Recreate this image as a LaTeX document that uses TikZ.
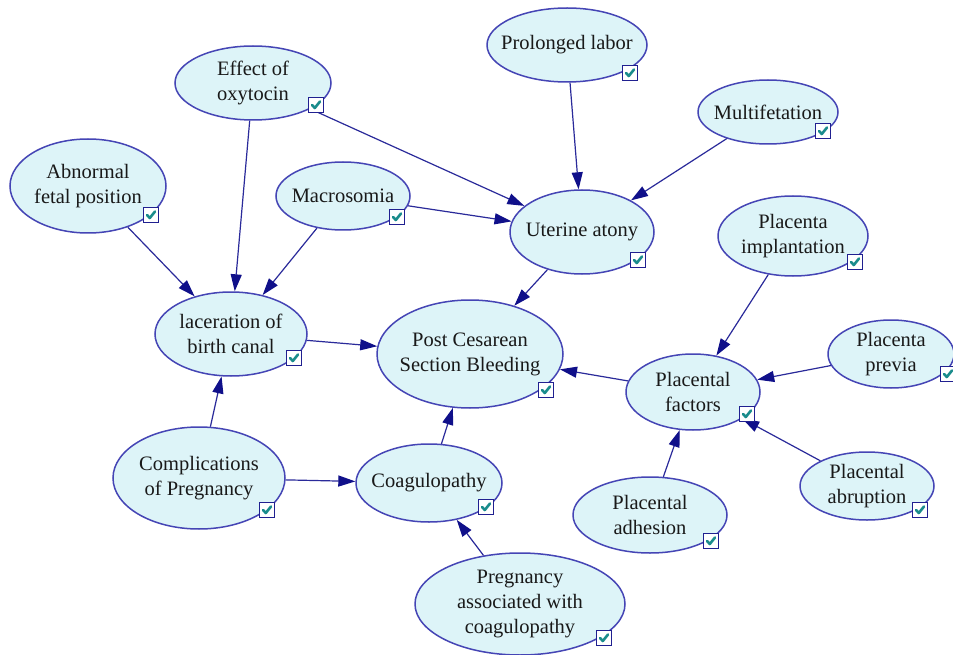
\documentclass[tikz,border=0pt]{standalone}
\usepackage{fontspec}
\setmainfont{Liberation Serif}
\newfontfamily\tnr{Liberation Serif}
\usetikzlibrary{shapes.geometric,arrows.meta}
\definecolor{efill}{HTML}{DDF4F8}
\definecolor{edraw}{HTML}{4545B5}
\definecolor{lnk}{HTML}{2A2A9A}
\definecolor{ahead}{HTML}{10108A}
\definecolor{chk}{HTML}{1A8C8C}
\definecolor{chkb}{HTML}{202090}
\tikzset{
  ell/.style={ellipse, draw=edraw, fill=efill, line width=1.5pt, inner sep=0pt},
  txt/.style={align=center, inner sep=0pt, font=\tnr\fontsize{20.5}{25}\selectfont, text=black!90},
  cbox/.style={draw=chkb, fill=white, line width=1.4pt, minimum size=15pt, inner sep=0pt},
  tick/.style={draw=chk, line width=2.6pt, line cap=round, line join=round},
  lk/.style={draw=lnk, line width=1.2pt, -{Triangle[length=17pt,width=11pt,color=ahead]}}
}
\newcommand\bn[6]{%
  \node[ell, minimum width=2*#4pt, minimum height=2*#5pt] (#1) at (#2,#3) {};
  \node[txt] (#1-t) at (#1) {#6};
}
\newcommand\cb[3]{%
  \node[cbox] (#1-c) at (#2,#3) {};
  \draw[tick] ([shift={(-4,0)}]#1-c.center) -- ([shift={(-1.2,3)}]#1-c.center) -- ([shift={(4,-3.5)}]#1-c.center);
}
\begin{document}
\begin{tikzpicture}[x=1pt,y=-1pt]
\fill[white] (0,0) rectangle (953,655);
\useasboundingbox (0,0) rectangle (953,655);
\clip (0,0) rectangle (953,655);
\bn{oxy}{253}{83}{78}{37}{Effect of\\oxytocin}
\bn{pro}{567}{45}{80}{37}{Prolonged labor}
\bn{mul}{768}{112}{70}{32}{Multifetation}
\bn{abn}{88}{186}{78}{47}{Abnormal\\fetal position}
\bn{mac}{343}{196}{67}{34}{Macrosomia}
\bn{ute}{582}{232}{72}{42}{Uterine atony}
\bn{imp}{793}{236}{75}{40}{Placenta\\implantation}
\bn{lac}{231}{334}{76}{42}{laceration of\\birth canal}
\bn{pcs}{470}{354}{93}{54}{Post Cesarean\\Section Bleeding}
\bn{pre}{891}{354}{63}{34}{Placenta\\previa}
\bn{fac}{693}{392}{67}{38}{Placental\\factors}
\bn{com}{199}{478}{86}{51}{Complications\\of Pregnancy}
\bn{coa}{429}{483}{73}{39}{Coagulopathy}
\bn{abr}{867}{486}{67}{34}{Placental\\abruption}
\bn{adh}{650}{515}{77}{38}{Placental\\adhesion}
\bn{pac}{520}{604}{105}{51}{Pregnancy\\associated with\\coagulopathy}
\draw[lk] (oxy) -- (lac);
\draw[lk] (oxy) -- (ute);
\draw[lk] (pro) -- (ute);
\draw[lk] (mul) -- (ute);
\draw[lk] (mac) -- (ute);
\draw[lk] (mac) -- (lac);
\draw[lk] (abn) -- (lac);
\draw[lk] (ute) -- (pcs);
\draw[lk] (lac) -- (pcs);
\draw[lk] (fac) -- (pcs);
\draw[lk] (coa) -- (pcs);
\draw[lk] (com) -- (lac);
\draw[lk] (com) -- (coa);
\draw[lk] (pac) -- (coa);
\draw[lk] (imp) -- (fac);
\draw[lk] (pre) -- (fac);
\draw[lk] (abr) -- (fac);
\draw[lk] (adh) -- (fac);
\cb{oxy}{316}{105}
\cb{pro}{630}{73}
\cb{mul}{823}{131}
\cb{abn}{151}{215}
\cb{mac}{397}{217}
\cb{ute}{638}{260}
\cb{imp}{855}{262}
\cb{lac}{294}{358}
\cb{pcs}{546}{390}
\cb{pre}{948}{374}
\cb{fac}{747}{414}
\cb{com}{267}{510}
\cb{coa}{486}{507}
\cb{abr}{920}{510}
\cb{adh}{711}{541}
\cb{pac}{604}{638}
\end{tikzpicture}
\end{document}
